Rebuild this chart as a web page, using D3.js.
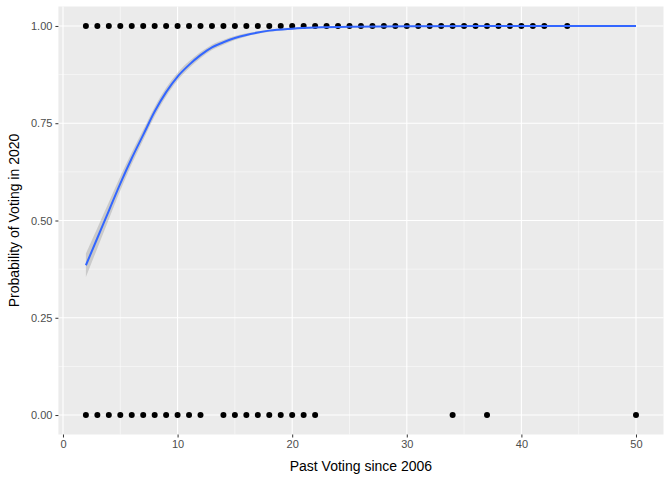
<!DOCTYPE html>
<html><head><meta charset="utf-8">
<script src="https://cdn.jsdelivr.net/npm/d3@7"></script>
<style>body{margin:0;background:#fff}</style>
</head><body><div id="chart"></div>
<script>
// observed points
const votedX = d3.range(2, 43).concat([44]);
const notVotedX = [2,3,4,5,6,7,8,9,10,11,12,14,15,16,17,18,19,20,21,22,34,37,50];
// fitted curve
const fitX = [2,3,4,5,6,7,8,9,10,11,12,13,14,15,16,17,18,20,22,25,30,40,50];
const fitY = [0.385,0.455,0.525,0.595,0.66,0.72,0.78,0.83,0.87,0.9,0.925,0.945,0.958,0.969,0.977,0.983,0.988,0.993,0.996,0.998,0.999,1,1];
const fitSe = [0.03,0.026,0.022,0.018,0.015,0.013,0.012,0.011,0.01,0.009,0.008,0.007,0.006,0.005,0.004,0.003,0.003,0.002,0.001,0.001,0,0,0];
const xTicks = [0,10,20,30,40,50];
const yTicks = [0,0.25,0.5,0.75,1];

const W = 672, H = 480;
const svg = d3.select("#chart").append("svg").attr("width", W).attr("height", H);
const x = d3.scaleLinear().domain([-0.4, 52.4]).range([58.4, 663.5]);
const y = d3.scaleLinear().domain([-0.05, 1.05]).range([434.5, 6.5]);
const [x0, x1] = x.range(), [y0, y1] = y.range();

svg.append("rect").attr("x", x0).attr("y", y1).attr("width", x1 - x0).attr("height", y0 - y1).attr("fill", "#EBEBEB");

// minor grid
const xMinor = [5,15,25,35,45], yMinor = [0.125,0.375,0.625,0.875];
svg.selectAll(".xm").data(xMinor).join("line").attr("x1", x).attr("x2", x).attr("y1", y0).attr("y2", y1).attr("stroke", "#fff").attr("stroke-width", 0.5);
svg.selectAll(".ym").data(yMinor).join("line").attr("y1", y).attr("y2", y).attr("x1", x0).attr("x2", x1).attr("stroke", "#fff").attr("stroke-width", 0.5);
svg.selectAll(".xg").data(xTicks).join("line").attr("x1", x).attr("x2", x).attr("y1", y0).attr("y2", y1).attr("stroke", "#fff").attr("stroke-width", 1.1);
svg.selectAll(".yg").data(yTicks).join("line").attr("y1", y).attr("y2", y).attr("x1", x0).attr("x2", x1).attr("stroke", "#fff").attr("stroke-width", 1.1);

// points
const pts = votedX.map(v => [v, 1]).concat(notVotedX.map(v => [v, 0]));
svg.selectAll(".pt").data(pts).join("circle").attr("cx", d => x(d[0])).attr("cy", d => y(d[1])).attr("r", 3).attr("fill", "#000");

// smooth band + line
const fit = fitX.map((v, i) => ({x: v, y: fitY[i], se: fitSe[i]}));
svg.append("path").datum(fit).attr("fill", "#999").attr("fill-opacity", 0.4)
  .attr("d", d3.area().curve(d3.curveMonotoneX).x(d => x(d.x)).y0(d => y(d.y - d.se)).y1(d => y(Math.min(d.y + d.se, 1))));
svg.append("path").datum(fit).attr("fill", "none").attr("stroke", "#3366FF").attr("stroke-width", 2)
  .attr("d", d3.line().curve(d3.curveMonotoneX).x(d => x(d.x)).y(d => y(d.y)));

// axes
const xa = svg.append("g").attr("transform", `translate(0,${y0})`)
  .call(d3.axisBottom(x).tickValues(xTicks).tickSize(3).tickPadding(3).tickFormat(d3.format("d")));
const ya = svg.append("g").attr("transform", `translate(${x0},0)`)
  .call(d3.axisLeft(y).tickValues(yTicks).tickSize(3).tickPadding(3).tickFormat(d3.format(".2f")));
[xa, ya].forEach(a => {
  a.select(".domain").remove();
  a.selectAll("line").attr("stroke", "#333");
  a.selectAll("text").attr("fill", "#4D4D4D").style("font-family", "Arial, 'Liberation Sans', sans-serif").style("font-size", "11px");
});

svg.append("text").attr("x", (x0 + x1) / 2).attr("y", 471).attr("text-anchor", "middle")
  .style("font-family", "Arial, 'Liberation Sans', sans-serif").style("font-size", "14px").text("Past Voting since 2006");
svg.append("text").attr("transform", `translate(19,${(y0 + y1) / 2}) rotate(-90)`).attr("text-anchor", "middle")
  .style("font-family", "Arial, 'Liberation Sans', sans-serif").style("font-size", "14px").text("Probability of Voting in 2020");
</script></body></html>
